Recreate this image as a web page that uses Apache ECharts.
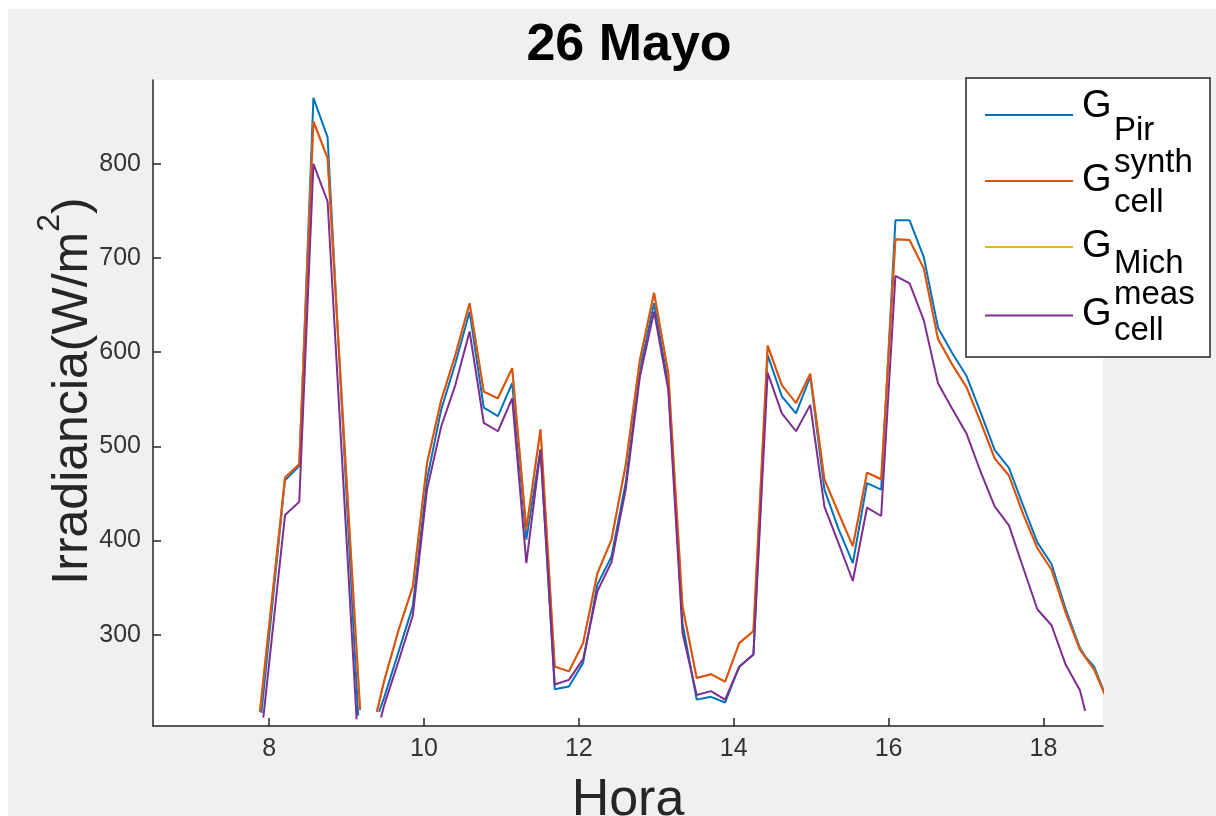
<!DOCTYPE html>
<html><head><meta charset="utf-8">
<script src="https://cdn.jsdelivr.net/npm/echarts@6/dist/echarts.min.js"></script>
<style>
html,body{margin:0;padding:0;background:#fff;}
#bg{position:absolute;left:8px;top:9px;width:1208px;height:807px;background:#f0f0f0;}
#c{position:absolute;left:0;top:0;width:1216px;height:816px;}
</style>
</head><body><div id="bg"></div><div id="c"></div>
<script>
// Hora (h)
const times = [7.88, 7.90, 7.925, 8.205, 8.389, 8.572, 8.755, 9.13, 9.15, 9.175, 9.30, 9.39, 9.42, 9.445,
  9.489, 9.672, 9.855, 10.039, 10.222, 10.405, 10.589, 10.772, 10.955, 11.139, 11.322, 11.505, 11.689, 11.872, 12.055, 12.239,
  12.422, 12.605, 12.789, 12.972, 13.155, 13.339, 13.522, 13.705, 13.889, 14.072, 14.255,
  14.439, 14.622, 14.805, 14.989, 15.172, 15.355, 15.539, 15.722, 15.905,
  16.089, 16.272, 16.455, 16.639, 16.822, 17.005, 17.189, 17.372, 17.555, 17.739, 17.922, 18.105, 18.289, 18.472,
  18.54, 18.655, 18.839];
// G_Pir
const gPir = [null, 217, 237, 464, 479, 870, 828, 245, 214, null, null, null, 218, 224,
  234, 282, 330, 465, 539, 588, 643, 541, 532, 567, 401, 497, 242, 245, 270, 353,
  383, 461, 582, 652, 567, 312, 231, 234, 228, 266, 279,
  597, 553, 535, 574, 454, 412, 376, 461, 454,
  740, 740, 701, 626, 599, 575, 536, 496, 477, 437, 398, 375, 327, 286,
  277, 266, 228];
// G_cell^synth
const gSynth = [218, 233, 252, 467, 481, 845, 806, 283, 255, 220, null, 218, 228, 237,
  252, 305, 351, 482, 549, 597, 652, 558, 551, 583, 412, 518, 266, 261, 291, 365,
  401, 480, 592, 663, 578, 330, 254, 258, 250, 291, 304,
  607, 565, 546, 577, 465, 429, 394, 472, 465,
  720, 719, 689, 614, 587, 563, 526, 487, 469, 428, 392, 369, 323, 284,
  276, 263, 228];
// G_Mich (hidden under G_cell^synth in the reference)
const gMich = [218, 233, 252, 467, 481, 845, 806, 283, 255, 220, null, 218, 228, 237,
  252, 305, 351, 482, 549, 597, 652, 558, 551, 583, 412, 518, 266, 261, 291, 365,
  401, 480, 592, 663, 578, 330, 254, 258, 250, 291, 304,
  607, 565, 546, 577, 465, 429, 394, 472, 465,
  720, 719, 689, 614, 587, 563, 526, 487, 469, 428, 392, 369, 323, 284,
  276, 263, 228];
// G_cell^meas
const gMeas = [null, null, 212, 427, 441, 800, 760, 210, null, null, null, null, null, 212,
  226, 272, 320, 454, 521, 565, 622, 525, 516, 551, 376, 496, 247, 252, 274, 346,
  377, 454, 574, 643, 560, 302, 236, 240, 231, 266, 279,
  578, 535, 516, 544, 436, 397, 357, 435, 426,
  681, 673, 634, 567, 540, 514, 473, 436, 416, 371, 327, 310, 268, 241,
  219, null, null];

const xTicks = [8, 10, 12, 14, 16, 18];
const yTicks = [300, 400, 500, 600, 700, 800];
const titleText = '26 Mayo';
const xName = 'Hora';
const yName = '{m|Irradiancia(W/m}{sup|2}{m|)}';
const legendMain = ['G', 'G', 'G', 'G'];
const legendSup = ['', 'synth', '', 'meas'];
const legendSub = ['Pir', 'cell', 'Mich', 'cell'];
const seriesNames = ['G_Pir', 'G_cell^synth', 'G_Mich', 'G_cell^meas'];
const colors = ['#0072BD', '#D95319', '#EDB120', '#7E2F8E'];

const FONT = '"Liberation Sans", Arial, sans-serif';
const AX = '#262626';

function pairs(vals) { return times.map((t, i) => [t, vals[i]]); }
function lineSeries(name, vals, color, z) {
  return {
    name: name, type: 'line', data: pairs(vals), showSymbol: false, symbol: 'none',
    connectNulls: false, clip: true, z: z, animation: false,
    lineStyle: { color: color, width: 2 }, itemStyle: { color: color }
  };
}

// legend drawn as graphic (stacked sub/superscripts)
const legX = 966, legY = 78, legW = 244, legH = 279;
const lineYs = [115, 181, 247, 315.5];
const gYs = [107, 181, 247, 315];
const supYs = [0, 163, 0, 295];
const subYs = [131, 203, 264, 331];
const legendEls = [{
  type: 'rect', shape: { x: legX, y: legY, width: legW, height: legH },
  style: { fill: '#fff', stroke: AX, lineWidth: 1.5 }, z: 100
}];
for (let i = 0; i < 4; i++) {
  legendEls.push({ type: 'line', shape: { x1: 985, y1: lineYs[i], x2: 1073, y2: lineYs[i] },
    style: { stroke: colors[i], lineWidth: 2 }, z: 101 });
  legendEls.push({ type: 'text', x: 1082, y: gYs[i], z: 101,
    style: { text: legendMain[i], font: '38px ' + FONT, fill: '#000', verticalAlign: 'middle', align: 'left' } });
  if (legendSup[i]) legendEls.push({ type: 'text', x: 1114, y: supYs[i], z: 101,
    style: { text: legendSup[i], font: '33px ' + FONT, fill: '#000', verticalAlign: 'middle', align: 'left' } });
  if (legendSub[i]) legendEls.push({ type: 'text', x: 1114, y: subYs[i], z: 101,
    style: { text: legendSub[i], font: '33px ' + FONT, fill: '#000', verticalAlign: 'middle', align: 'left' } });
}

const chart = echarts.init(document.getElementById('c'), null, { renderer: 'canvas' });
chart.setOption({
  backgroundColor: 'transparent',
  animation: false,
  title: {
    text: titleText, left: 629, top: 20, textAlign: 'center', padding: 0,
    textStyle: { fontSize: 52, fontWeight: 'bold', fontFamily: FONT, color: '#000' }
  },
  legend: { show: false, data: seriesNames },
  grid: { left: 153, top: 80, width: 950, height: 646, show: true, backgroundColor: '#fff', borderWidth: 0,
    outerBoundsMode: 'none', containLabel: false },
  xAxis: {
    type: 'value', min: 6.5, max: 18.77,
    name: xName, nameLocation: 'middle', nameGap: 49, nameMoveOverlap: false,
    nameTextStyle: { fontSize: 52, fontFamily: FONT, color: AX },
    axisLine: { show: true, onZero: false, lineStyle: { color: AX, width: 1.5 } },
    axisTick: { show: true, inside: true, length: 8, customValues: xTicks, lineStyle: { color: AX, width: 1.5 } },
    axisLabel: { customValues: xTicks, fontSize: 25, fontFamily: FONT, color: '#333', margin: 11 },
    splitLine: { show: false }
  },
  yAxis: {
    type: 'value', min: 203, max: 889,
    name: yName, nameLocation: 'middle', nameGap: 55, nameMoveOverlap: false,
    nameTextStyle: { fontSize: 50, fontFamily: FONT, color: AX, padding: [0, 0, 0, 24],
      rich: {
        m: { fontSize: 50, fontFamily: FONT, color: AX, lineHeight: 64, verticalAlign: 'bottom' },
        sup: { fontSize: 32, fontFamily: FONT, color: AX, lineHeight: 32, verticalAlign: 'top' }
      } },
    axisLine: { show: true, onZero: false, lineStyle: { color: AX, width: 1.5 } },
    axisTick: { show: true, inside: true, length: 8, customValues: yTicks, lineStyle: { color: AX, width: 1.5 } },
    axisLabel: { customValues: yTicks, fontSize: 25, fontFamily: FONT, color: '#333', margin: 12 },
    splitLine: { show: false }
  },
  series: [
    lineSeries(seriesNames[0], gPir, colors[0], 2),
    lineSeries(seriesNames[2], gMich, colors[2], 2),
    lineSeries(seriesNames[1], gSynth, colors[1], 3),
    lineSeries(seriesNames[3], gMeas, colors[3], 4)
  ],
  graphic: legendEls
});
</script>
</body></html>
